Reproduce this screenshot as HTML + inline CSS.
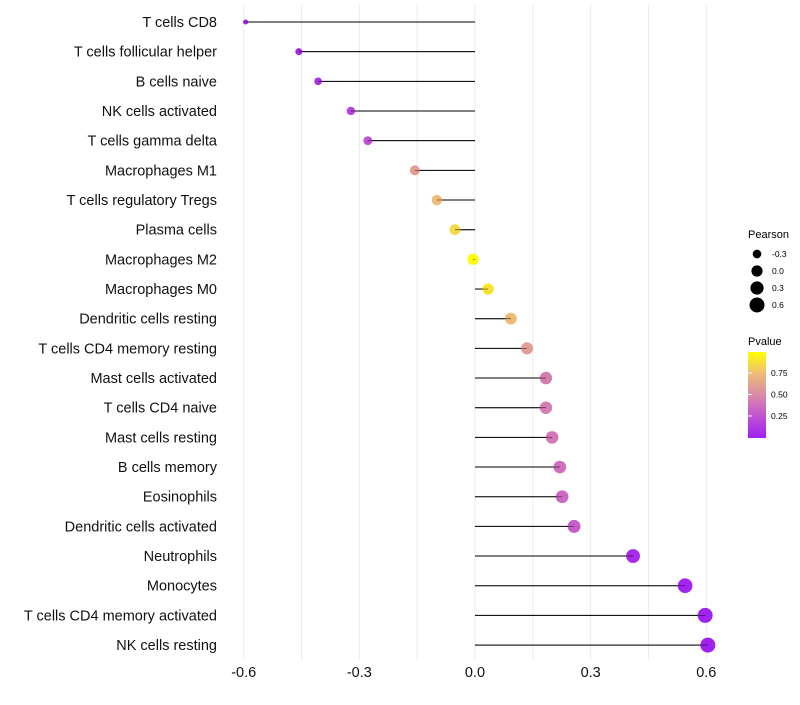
<!DOCTYPE html>
<html><head><meta charset="utf-8"><style>
body{margin:0;background:#fff;font-family:"Liberation Sans",sans-serif}
</style></head><body>
<svg id="c" width="800" height="700" xmlns="http://www.w3.org/2000/svg">
<defs><linearGradient id="pg" x1="0" y1="1" x2="0" y2="0">
<stop offset="0" stop-color="#a020f0"/><stop offset="0.25" stop-color="#c052d4"/><stop offset="0.5" stop-color="#da8aa8"/><stop offset="0.75" stop-color="#eebc78"/><stop offset="1" stop-color="#ffff00"/></linearGradient></defs>
<g id="grid"></g><g id="marks"></g><g id="labels"></g>
<g font-size="9" fill="#000">
<text x="748" y="238" font-size="11">Pearson</text>
<g id="sizeleg"></g>
<text x="748" y="345" font-size="11">Pvalue</text>
<rect x="748" y="352" width="18" height="86" fill="url(#pg)"/>
<g id="cbticks"></g>
</g>
</svg>
<script>
const categories=["T cells CD8","T cells follicular helper","B cells naive","NK cells activated","T cells gamma delta","Macrophages M1","T cells regulatory  Tregs ","Plasma cells","Macrophages M2","Macrophages M0","Dendritic cells resting","T cells CD4 memory resting","Mast cells activated","T cells CD4 naive","Mast cells resting","B cells memory","Eosinophils","Dendritic cells activated","Neutrophils","Monocytes","T cells CD4 memory activated","NK cells resting"];
const pearson=[-0.595,-0.457,-0.407,-0.322,-0.278,-0.156,-0.099,-0.052,-0.005,0.034,0.093,0.135,0.184,0.184,0.2,0.22,0.226,0.257,0.41,0.545,0.597,0.604];
const pvalues=[0.003,0.04,0.08,0.18,0.25,0.6,0.75,0.85,0.99,0.9,0.75,0.6,0.45,0.45,0.42,0.38,0.35,0.3,0.06,0.02,0.005,0.005];
const xTicks=[-0.6,-0.3,0.0,0.3,0.6];
const xTickLabels=["-0.6","-0.3","0.0","0.3","0.6"];
const sizeLegendVals=[-0.3,0.0,0.3,0.6];
const cbTicks=[0.25,0.5,0.75];
const NS="http://www.w3.org/2000/svg";
const x=v=>475+v*385.5;
const y=i=>22+i*29.67;
const rmin=Math.min(...pearson),rmax=Math.max(...pearson);
const rad=v=>Math.sqrt(26+(v-rmin)/(rmax-rmin)*199)/2;
const stops=[[0,[160,32,240]],[0.25,[192,82,212]],[0.5,[218,138,168]],[0.75,[238,188,120]],[1,[255,255,0]]];
function col(p){for(let k=1;k<stops.length;k++){if(p<=stops[k][0]){const a=stops[k-1],b=stops[k],t=(p-a[0])/(b[0]-a[0]);return 'rgb('+a[1].map((c,j)=>Math.round(c+(b[1][j]-c)*t)).join(',')+')';}}return 'rgb(255,255,0)';}
function mk(tag,attrs,parent){const e=document.createElementNS(NS,tag);for(const k in attrs)e.setAttribute(k,attrs[k]);parent.appendChild(e);return e;}
const grid=document.getElementById('grid'),marks=document.getElementById('marks'),labels=document.getElementById('labels');
for(let v=-0.6;v<=0.61;v+=0.15){const g=mk('line',{x1:x(v),x2:x(v),y1:5,y2:660,stroke:'#ebebeb','stroke-width':1},grid);

}
categories.forEach((c,i)=>{const yy=y(i);
const t=mk('text',{x:217,y:yy+5,'text-anchor':'end','font-size':14.5,fill:'#111'},labels);t.textContent=c;


const l=mk('line',{x1:x(0),x2:x(pearson[i]),y1:yy,y2:yy,stroke:'#000','stroke-width':1},marks);


const p=mk('circle',{cx:x(pearson[i]),cy:yy,r:rad(pearson[i]),fill:col(pvalues[i])},marks);


const l2=mk('line',{x1:x(0),x2:x(pearson[i]),y1:yy,y2:yy,stroke:'#000','stroke-width':0.8,'stroke-opacity':0.6},marks);

});
xTicks.forEach((v,i)=>{const t=mk('text',{x:x(v),y:677,'text-anchor':'middle','font-size':14.5,fill:'#111'},labels);t.textContent=xTickLabels[i];

});
const sl=document.getElementById('sizeleg');
sizeLegendVals.forEach((v,i)=>{const yy=254+i*17;
const c=mk('circle',{cx:757,cy:yy,r:rad(v),fill:'#000'},sl);


const t=mk('text',{x:772,y:yy+3,'font-size':8.5},sl);t.textContent=v.toFixed(1);

});
const cb=document.getElementById('cbticks');
cbTicks.forEach(v=>{const yy=437.5-v*86;
const tk=mk('line',{x1:748,x2:752,y1:yy,y2:yy,stroke:'#fff'},cb);


const t=mk('text',{x:771,y:yy+3,'font-size':8.5},cb);t.textContent=v.toFixed(2);

});
</script>
</body></html>
